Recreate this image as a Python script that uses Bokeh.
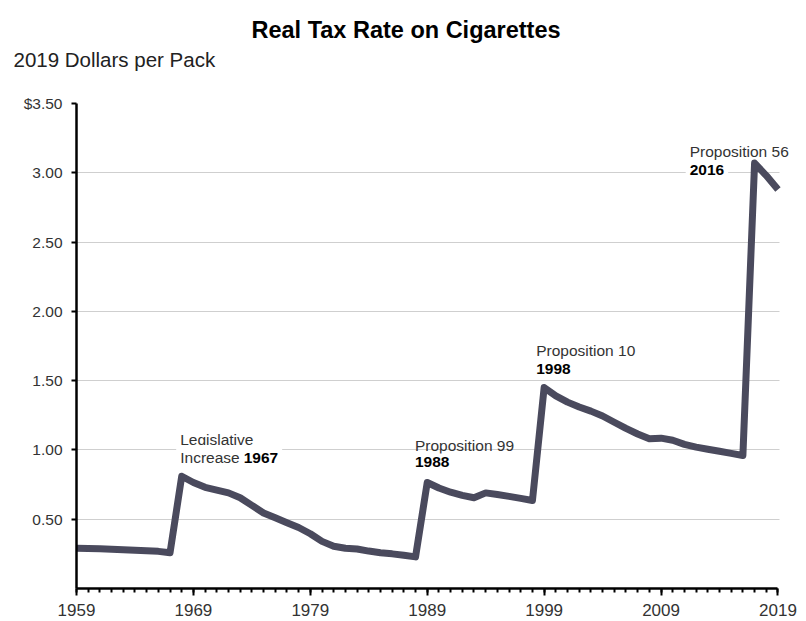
from bokeh.plotting import figure
from bokeh.models import (Title, Label, FixedTicker, CustomJSTickFormatter, Range1d)
from bokeh.embed import file_html
from bokeh.resources import INLINE

# ---- data ----
years = list(range(1959, 2020))
tax_rate = [
    0.290, 0.288, 0.286, 0.284, 0.280, 0.276, 0.272, 0.268, 0.258,   # 1959-1967
    0.810, 0.765, 0.730, 0.710, 0.690, 0.655, 0.600, 0.545, 0.510,  # 1968-1976
    0.475, 0.440, 0.395, 0.340, 0.305, 0.290, 0.285, 0.270, 0.258,  # 1977-1985
    0.250, 0.240, 0.228,                                            # 1986-1988
    0.765, 0.725, 0.695, 0.672, 0.655, 0.690, 0.678, 0.665, 0.650,  # 1989-1997
    0.635,                                                          # 1998
    1.450, 1.390, 1.345, 1.310, 1.280, 1.245, 1.200, 1.155, 1.115,  # 1999-2007
    1.080, 1.085, 1.070, 1.040, 1.020, 1.005, 0.990, 0.975, 0.960,  # 2008-2016
    3.070, 2.980, 2.880,                                            # 2017-2019
]
x_major_ticks = [1959, 1969, 1979, 1989, 1999, 2009, 2019]
y_ticks = [0.5, 1.0, 1.5, 2.0, 2.5, 3.0, 3.5]

title_text = "Real Tax Rate on Cigarettes"
subtitle_text = "2019 Dollars per Pack"

# annotations: (line 1, normal prefix of line 2, bold part of line 2)
annotations = [
    ("Legislative", "Increase ", "1967"),
    ("Proposition 99", "", "1988"),
    ("Proposition 10", "", "1998"),
    ("Proposition 56", "", "2016"),
]
ann_x = [1967.87, 1987.95, 1998.32, 2011.45]
ann_bold_x = [1973.3, 1987.95, 1998.32, 2011.45]
ann_y1 = [1.075, 1.035, 1.715, 3.157]
ann_y2 = [0.945, 0.91, 1.585, 3.019]

FONT = "Liberation Sans"
LINE_COLOR = "#4a4a5d"
PAD = 4

p = figure(width=806, height=621, output_backend="svg", toolbar_location=None,
           x_range=Range1d(1959, 2020.5), y_range=Range1d(0, 3.5),
           min_border_left=76, min_border_right=11, min_border_bottom=33,
           min_border_top=103, title=None)
p.outline_line_color = None
p.background_fill_color = "white"
p.border_fill_color = "white"

# stacked from the frame outward: spacer, subtitle, title
spacer = Title(text=" ", text_font=FONT, text_font_size="10px", standoff=20)
p.add_layout(spacer, "above")
sub = Title(text=subtitle_text, align="left", offset=-63,
            text_font=FONT, text_font_size="20.5px", text_font_style="normal",
            text_color="#222222", standoff=0)
p.add_layout(sub, "above")
ttl = Title(text=title_text, align="left", offset=175,
            text_font=FONT, text_font_size="23.5px", text_font_style="bold",
            text_color="#000000", standoff=6)
p.add_layout(ttl, "above")

# grid
p.xgrid.grid_line_color = None
p.ygrid.ticker = FixedTicker(ticks=y_ticks)
p.ygrid.grid_line_color = "#cfcfcf"
p.ygrid.grid_line_width = 1
p.ygrid.cross_bounds = (1959, 2019.15)

# axes
p.yaxis.ticker = FixedTicker(ticks=y_ticks)
p.yaxis.formatter = CustomJSTickFormatter(code="return tick == 3.5 ? '$3.50' : tick.toFixed(2);")
p.yaxis.axis_line_color = "black"
p.yaxis.axis_line_width = 2.5
p.yaxis.major_tick_line_color = "black"
p.yaxis.major_tick_line_width = 2
p.yaxis.major_tick_out = 5
p.yaxis.major_tick_in = 0
p.yaxis.minor_tick_line_color = None
p.yaxis.major_label_text_font = FONT
p.yaxis.major_label_text_font_size = "15.5px"
p.yaxis.major_label_text_color = "#333333"
p.yaxis.major_label_standoff = 9

p.xaxis.bounds = (1959, 2019)
p.xaxis.ticker = FixedTicker(ticks=x_major_ticks, minor_ticks=years)
p.xaxis.axis_line_color = "black"
p.xaxis.axis_line_width = 2.5
p.xaxis.major_tick_line_color = "black"
p.xaxis.major_tick_line_width = 2
p.xaxis.major_tick_out = 7
p.xaxis.major_tick_in = 0
p.xaxis.minor_tick_line_color = "black"
p.xaxis.minor_tick_line_width = 2
p.xaxis.minor_tick_out = 4
p.xaxis.minor_tick_in = 0
p.xaxis.major_label_text_font = FONT
p.xaxis.major_label_text_font_size = "17px"
p.xaxis.major_label_text_color = "#333333"
p.xaxis.major_label_text_baseline = "hanging"
p.xaxis.major_label_standoff = 8

p.line(years, tax_rate, line_color=LINE_COLOR, line_width=7, line_join="round")

# annotations (white background breaks the gridlines)
for (l1, pre, bold), x, bx, y1, y2 in zip(annotations, ann_x, ann_bold_x, ann_y1, ann_y2):
    p.add_layout(Label(x=x, y=y1, text=l1, text_font=FONT, text_font_size="15.5px",
                       text_color="#333333", text_baseline="alphabetic",
                       background_fill_color=None, level="annotation"))
    if pre:
        p.add_layout(Label(x=x, y=y2, text=pre, text_font=FONT, text_font_size="15.5px",
                           text_color="#333333", text_baseline="alphabetic", x_offset=-PAD,
                           background_fill_color="white", padding=PAD, level="annotation"))
    p.add_layout(Label(x=bx, y=y2, text=bold, text_font=FONT, text_font_size="15.5px",
                       text_font_style="bold", text_color="#000000",
                       text_baseline="alphabetic", x_offset=-PAD,
                       background_fill_color="white", padding=PAD, level="annotation"))

open("out.html", "w").write(file_html(p, INLINE))
